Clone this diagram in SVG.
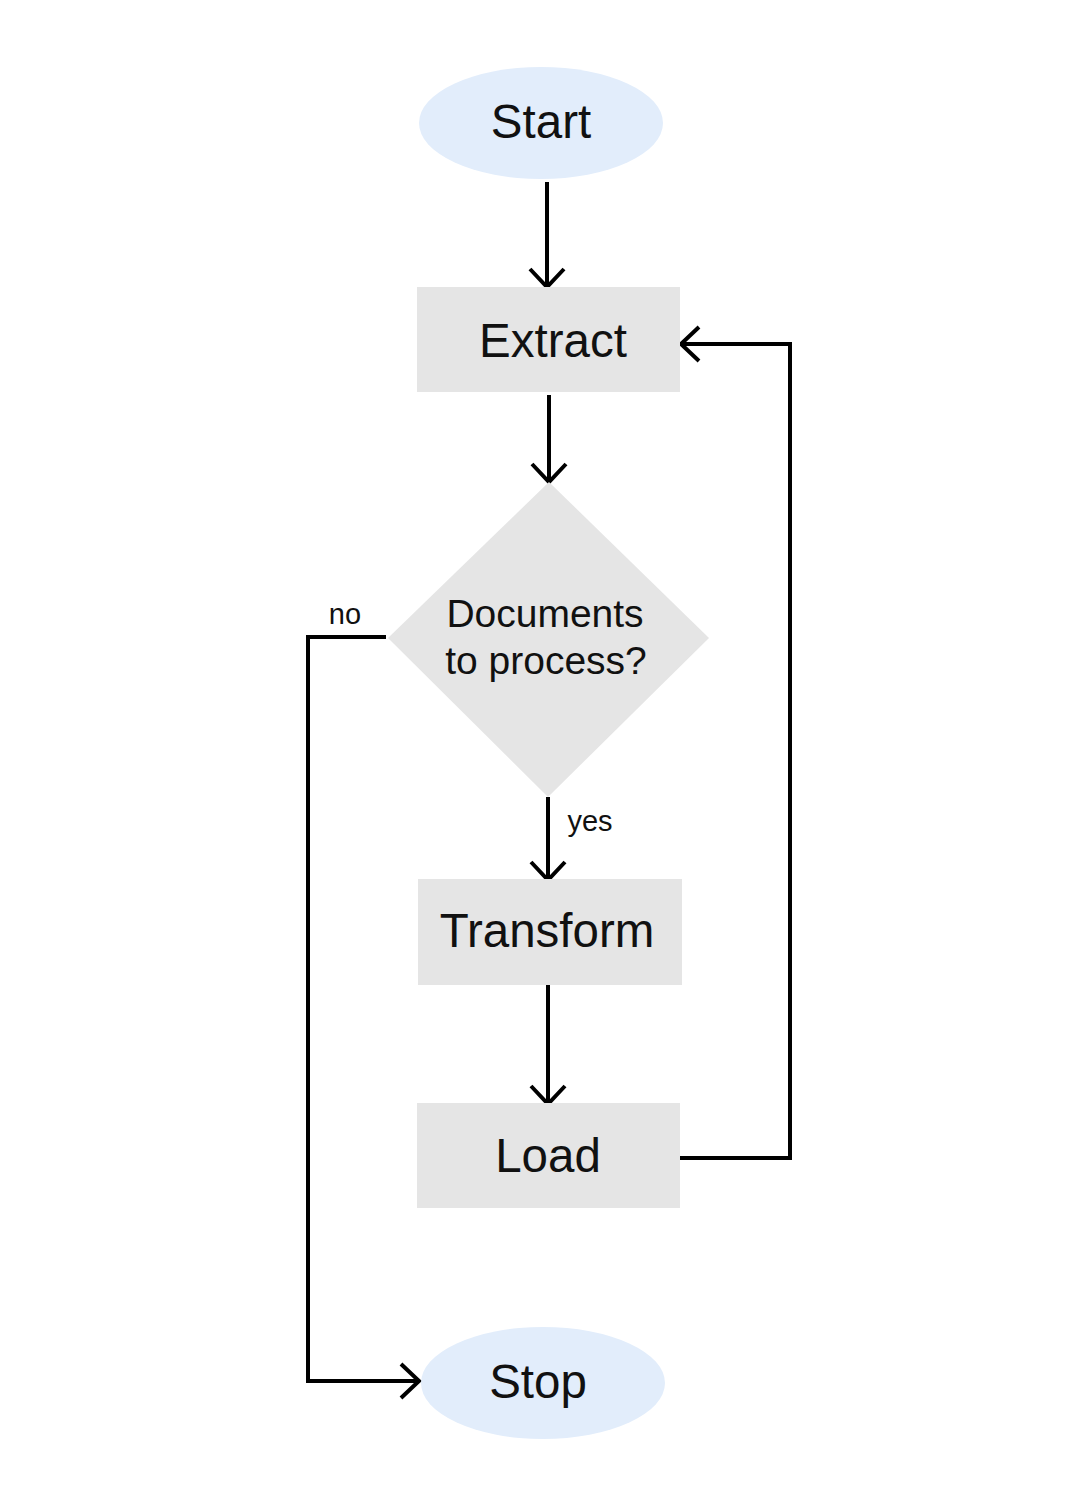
<svg xmlns="http://www.w3.org/2000/svg" width="1075" height="1488" viewBox="0 0 1075 1488">
  <style>
    .term { fill: #e2edfb; }
    .proc { fill: #e5e5e5; }
    .lbl { font-family: "Liberation Sans", Arial, sans-serif; fill: #111; text-anchor: middle; }
    .big { font-size: 47.5px; }
    .mid { font-size: 39px; }
    .small { font-size: 29px; }
    .edge { fill: none; stroke: #000; stroke-width: 4; }
  </style>
  <defs>
    <marker id="arrow" markerUnits="userSpaceOnUse" viewBox="-22 -22 26 44" markerWidth="26" markerHeight="44" refX="0" refY="0" orient="auto">
      <path d="M-18,-17 L0,0 L-18,17" fill="none" stroke="#000" stroke-width="4"/>
    </marker>
  </defs>
  <rect width="1075" height="1488" fill="#fff"/>

  <g id="connectors">
    <path class="edge" d="M547,182 L547,287" marker-end="url(#arrow)"/>
    <path class="edge" d="M549,395 L549,482" marker-end="url(#arrow)"/>
    <path class="edge" d="M548,797 L548,880" marker-end="url(#arrow)"/>
    <path class="edge" d="M548,985 L548,1104" marker-end="url(#arrow)"/>
    <path class="edge" d="M680,1158 L790,1158 L790,344 L681,344" marker-end="url(#arrow)"/>
    <path class="edge" d="M386,637 L308,637 L308,1381 L419,1381" marker-end="url(#arrow)"/>
    <text class="lbl small" x="345" y="624">no</text>
    <text class="lbl small" x="590" y="831">yes</text>
  </g>

  <g id="start">
    <ellipse class="term" cx="541" cy="123" rx="122" ry="56"/>
    <text class="lbl big" x="541" y="138">Start</text>
  </g>
  <g id="extract">
    <rect class="proc" x="417" y="287" width="263" height="105"/>
    <text class="lbl big" x="553" y="357">Extract</text>
  </g>
  <g id="decision">
    <polygon class="proc" points="549,482 709,638 548,797 388,638"/>
    <text class="lbl mid" x="545" y="627">Documents</text>
    <text class="lbl mid" x="546" y="674">to process?</text>
  </g>
  <g id="transform">
    <rect class="proc" x="418" y="879" width="264" height="106"/>
    <text class="lbl big" x="547" y="947">Transform</text>
  </g>
  <g id="load">
    <rect class="proc" x="417" y="1103" width="263" height="105"/>
    <text class="lbl big" x="548" y="1172">Load</text>
  </g>
  <g id="stop">
    <ellipse class="term" cx="543" cy="1383" rx="122" ry="56"/>
    <text class="lbl big" x="538" y="1398">Stop</text>
  </g>
</svg>
